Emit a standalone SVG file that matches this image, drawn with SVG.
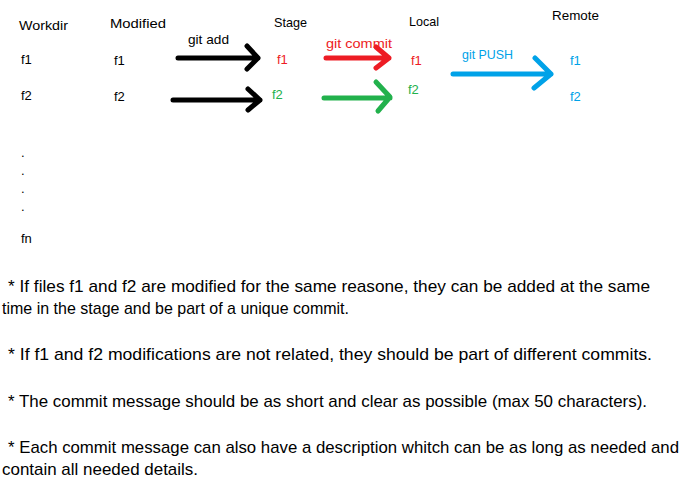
<svg xmlns="http://www.w3.org/2000/svg" width="693" height="489" viewBox="0 0 693 489">
<style>
text{font-family:"Liberation Sans",Arial,sans-serif;}
.h{font-size:13px;fill:#000;}
.f{font-size:13px;}
.k{fill:#000;}
.r{fill:#ED1C24;}
.g{fill:#22B14C;}
.b{fill:#00A2E8;}
.n{font-size:17px;fill:#000;}
.a{fill:none;stroke-width:5;stroke-linecap:round;stroke-linejoin:round;}
</style>
<rect width="693" height="489" fill="#fff"/>
<g id="workdir">
<text class="h" x="19" y="30" textLength="49" lengthAdjust="spacingAndGlyphs">Workdir</text>
<text class="f k" x="21" y="64">f1</text>
<text class="f k" x="21" y="100">f2</text>
<text class="f k" x="21" y="157">.</text>
<text class="f k" x="21" y="175">.</text>
<text class="f k" x="21" y="193">.</text>
<text class="f k" x="21" y="211">.</text>
<text class="f k" x="21" y="243">fn</text>
</g>
<g id="modified">
<text class="h" x="110" y="28" textLength="56" lengthAdjust="spacingAndGlyphs">Modified</text>
<text class="f k" x="114" y="65">f1</text>
<text class="f k" x="114" y="101">f2</text>
</g>
<g id="stage">
<text class="h" x="274" y="27" textLength="33" lengthAdjust="spacingAndGlyphs">Stage</text>
<text class="f r" x="277" y="64">f1</text>
<text class="f g" x="272" y="99">f2</text>
</g>
<g id="local">
<text class="h" x="409" y="26" textLength="30" lengthAdjust="spacingAndGlyphs">Local</text>
<text class="f r" x="411" y="65">f1</text>
<text class="f g" x="408" y="94">f2</text>
</g>
<g id="remote">
<text class="h" x="552" y="20" textLength="47" lengthAdjust="spacingAndGlyphs">Remote</text>
<text class="f b" x="570" y="65">f1</text>
<text class="f b" x="570" y="101">f2</text>
</g>
<g id="connectors">
<path class="a" stroke="#000" d="M178 58H258M247 46L258 58L247 69"/>
<path class="a" stroke="#000" d="M173 100H260M248 89L260 100L248 110"/>
<path class="a" stroke="#ED1C24" d="M326 58H389M376 47L389 58L376 68"/>
<path class="a" stroke="#22B14C" d="M324 98H390M376 82L390 97L378 111"/>
<path class="a" stroke="#00A2E8" d="M453 74H551M535 58L551 74L534 88"/>
<text class="f k" x="188" y="44" textLength="41" lengthAdjust="spacingAndGlyphs">git add</text>
<text class="f r" x="326" y="48" textLength="66" lengthAdjust="spacingAndGlyphs">git commit</text>
<text class="f b" x="462" y="59" textLength="51" lengthAdjust="spacingAndGlyphs">git PUSH</text>
</g>
<g id="notes">
<text class="n" x="8" y="292" textLength="642" lengthAdjust="spacingAndGlyphs">* If files f1 and f2 are modified for the same reasone, they can be added at the same</text>
<text class="n" x="2" y="314" textLength="347" lengthAdjust="spacingAndGlyphs">time in the stage and be part of a unique commit.</text>
<text class="n" x="8" y="360" textLength="644" lengthAdjust="spacingAndGlyphs">* If f1 and f2 modifications are not related, they should be part of different commits.</text>
<text class="n" x="8" y="407" textLength="639" lengthAdjust="spacingAndGlyphs">* The commit message should be as short and clear as possible (max 50 characters).</text>
<text class="n" x="8" y="453" textLength="671" lengthAdjust="spacingAndGlyphs">* Each commit message can also have a description whitch can be as long as needed and</text>
<text class="n" x="2" y="475" textLength="196" lengthAdjust="spacingAndGlyphs">contain all needed details.</text>
</g>
</svg>
